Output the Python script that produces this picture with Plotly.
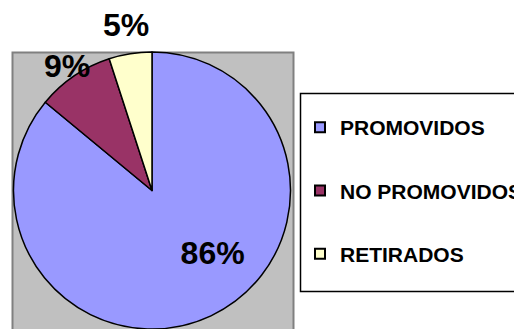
import math
import plotly.graph_objects as go

categories = ["PROMOVIDOS", "NO PROMOVIDOS", "RETIRADOS"]
values = [86, 9, 5]
colors = ["#9999FF", "#993366", "#FFFFCC"]

W, H = 514, 329
FONT = "Liberation Sans, Arial, sans-serif"

# pie geometry (pixels)
px0, px1 = 13, 291
py_top = 52
cx = (px0 + px1) / 2
r = (px1 - px0) / 2
cy = py_top + r

fig = go.Figure()

total = sum(values)
pct = [round(100 * v / total) for v in values]
# big slice label inside (shifted right with leading spaces); small ones as outside annotations
texts = ["&nbsp;" * 7 + f"{pct[0]}%", "", ""]

fig.add_trace(go.Pie(
    labels=categories,
    values=values,
    sort=False,
    direction="clockwise",
    rotation=0,
    marker=dict(colors=colors, line=dict(color="black", width=1.5)),
    text=texts,
    textinfo="text",
    textposition=["inside", "none", "none"],
    insidetextorientation="horizontal",
    textfont=dict(family=FONT, size=32, color="black", weight="bold"),
    showlegend=False,
    domain=dict(x=[px0 / W, px1 / W], y=[0, 1 - py_top / H]),
    hoverinfo="skip",
))

# outside labels for the small slices, placed along each slice's mid-angle
radial = {1: 1.09, 2: 1.21}
cum = 0
for i, v in enumerate(values):
    mid = (cum + v / 2) / total * 2 * math.pi
    cum += v
    if i in radial:
        d = radial[i] * r
        x = cx + d * math.sin(mid)
        y = cy - d * math.cos(mid)
        fig.add_annotation(x=x / W, y=1 - y / H, xref="paper", yref="paper",
                           text=f"{pct[i]}%", showarrow=False,
                           font=dict(family=FONT, size=32, color="black", weight="bold"),
                           xanchor="center", yanchor="middle")

# legend entries built from the category list
for i, (cat, col) in enumerate(zip(categories, colors)):
    fig.add_trace(go.Scatter(
        x=[None], y=[None], mode="markers", name=cat,
        marker=dict(symbol="square", size=10, color=col,
                    line=dict(color="black", width=2)),
        legendgroup=f"g{i}", showlegend=True,
    ))

# plot-area background
fig.add_shape(type="rect", xref="paper", yref="paper",
              x0=12.5 / W, x1=293.5 / W, y0=-0.1, y1=1 - 52.5 / H,
              fillcolor="#C0C0C0", line=dict(color="#808080", width=2),
              layer="below")
# legend frame
fig.add_shape(type="rect", xref="paper", yref="paper",
              x0=300.5 / W, x1=530 / W, y0=1 - 291.5 / H, y1=1 - 93.5 / H,
              fillcolor="white", line=dict(color="black", width=1.5),
              layer="below")

fig.update_layout(
    width=W, height=H,
    margin=dict(l=0, r=0, t=0, b=0, autoexpand=False),
    paper_bgcolor="white", plot_bgcolor="rgba(0,0,0,0)",
    xaxis=dict(visible=False), yaxis=dict(visible=False),
    legend=dict(
        x=300 / W, xanchor="left", y=1 - 107 / H, yanchor="top",
        borderwidth=0, bgcolor="rgba(0,0,0,0)",
        font=dict(family=FONT, size=21, color="black", weight="bold"),
        tracegroupgap=33, itemclick=False, itemdoubleclick=False,
    ),
)

fig.write_html("out.html")
